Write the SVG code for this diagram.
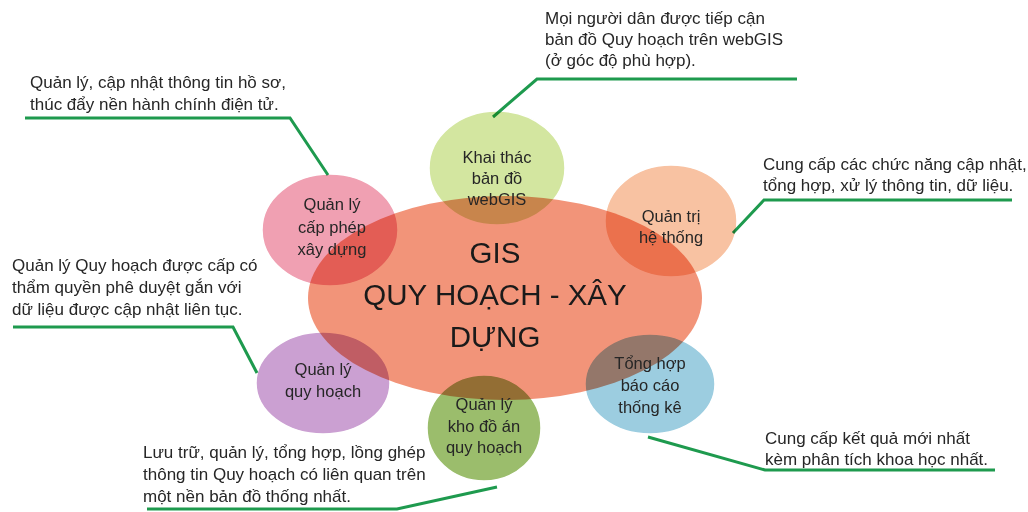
<svg xmlns="http://www.w3.org/2000/svg" width="1028" height="512" viewBox="0 0 1028 512">
<style>
.t{font-family:"Liberation Sans",Arial,sans-serif;font-size:17px;fill:#262626}
.n{font-family:"Liberation Sans",Arial,sans-serif;font-size:16.5px;fill:#262626;text-anchor:middle}
.c{font-family:"Liberation Sans",Arial,sans-serif;font-size:29.5px;fill:#1a1a1a;text-anchor:middle}
.sat{stroke:#ffffff;stroke-width:1.5;mix-blend-mode:multiply}
.ln{fill:none;stroke:#1e9a4e;stroke-width:3;stroke-linejoin:miter}
</style>
<rect width="1028" height="512" fill="#ffffff"/>
<g id="connectors">
<polyline class="ln" points="25,118 290,118 328,175"/>
<polyline class="ln" points="493,117 537,79 797,79"/>
<polyline class="ln" points="733,233 764,200 1012,200"/>
<polyline class="ln" points="13,327 233,327 257,373"/>
<polyline class="ln" points="497,487 397,509 147,509"/>
<polyline class="ln" points="648,437 765,470 995,470"/>
</g>
<g id="center">
<ellipse cx="505" cy="298" rx="197" ry="102" fill="#f29479"/>
</g>
<g id="node-webgis">
<ellipse class="sat" cx="497" cy="168" rx="68" ry="57" fill="#d3e6a0"/>
<text class="n" x="497" y="163">Khai thác</text>
<text class="n" x="497" y="184">bản đồ</text>
<text class="n" x="497" y="205">webGIS</text>
</g>
<g id="node-capphep">
<ellipse class="sat" cx="330" cy="230" rx="68" ry="56" fill="#f0a0b2"/>
<text class="n" x="332" y="210">Quản lý</text>
<text class="n" x="332" y="233">cấp phép</text>
<text class="n" x="332" y="255">xây dựng</text>
</g>
<g id="node-quantri">
<ellipse class="sat" cx="671" cy="221" rx="66" ry="56" fill="#f8c2a2"/>
<text class="n" x="671" y="222">Quản trị</text>
<text class="n" x="671" y="243">hệ thống</text>
</g>
<g id="node-quyhoach">
<ellipse class="sat" cx="323" cy="383" rx="67" ry="51" fill="#cba0d2"/>
<text class="n" x="323" y="375">Quản lý</text>
<text class="n" x="323" y="397">quy hoạch</text>
</g>
<g id="node-kho">
<ellipse class="sat" cx="484" cy="428" rx="57" ry="53" fill="#9bbd6c"/>
<text class="n" x="484" y="410">Quản lý</text>
<text class="n" x="484" y="432">kho đồ án</text>
<text class="n" x="484" y="453">quy hoạch</text>
</g>
<g id="node-tonghop">
<ellipse class="sat" cx="650" cy="384" rx="65" ry="50" fill="#9ccde0"/>
<text class="n" x="650" y="369">Tổng hợp</text>
<text class="n" x="650" y="391">báo cáo</text>
<text class="n" x="650" y="413">thống kê</text>
</g>
<g id="center-label">
<text class="c" x="495" y="263">GIS</text>
<text class="c" x="495" y="305">QUY HOẠCH - XÂY</text>
<text class="c" x="495" y="347">DỰNG</text>
</g>
<g id="notes">
<text class="t" x="30" y="88">Quản lý, cập nhật thông tin hồ sơ,</text>
<text class="t" x="30" y="110">thúc đẩy nền hành chính điện tử.</text>
<text class="t" x="545" y="24">Mọi người dân được tiếp cận</text>
<text class="t" x="545" y="45">bản đồ Quy hoạch trên webGIS</text>
<text class="t" x="545" y="66">(ở góc độ phù hợp).</text>
<text class="t" x="763" y="170">Cung cấp các chức năng cập nhật,</text>
<text class="t" x="763" y="191">tổng hợp, xử lý thông tin, dữ liệu.</text>
<text class="t" x="12" y="271">Quản lý Quy hoạch được cấp có</text>
<text class="t" x="12" y="293">thẩm quyền phê duyệt gắn với</text>
<text class="t" x="12" y="315">dữ liệu được cập nhật liên tục.</text>
<text class="t" x="143" y="458">Lưu trữ, quản lý, tổng hợp, lồng ghép</text>
<text class="t" x="143" y="480">thông tin Quy hoạch có liên quan trên</text>
<text class="t" x="143" y="502">một nền bản đồ thống nhất.</text>
<text class="t" x="765" y="444">Cung cấp kết quả mới nhất</text>
<text class="t" x="765" y="465">kèm phân tích khoa học nhất.</text>
</g>
</svg>
